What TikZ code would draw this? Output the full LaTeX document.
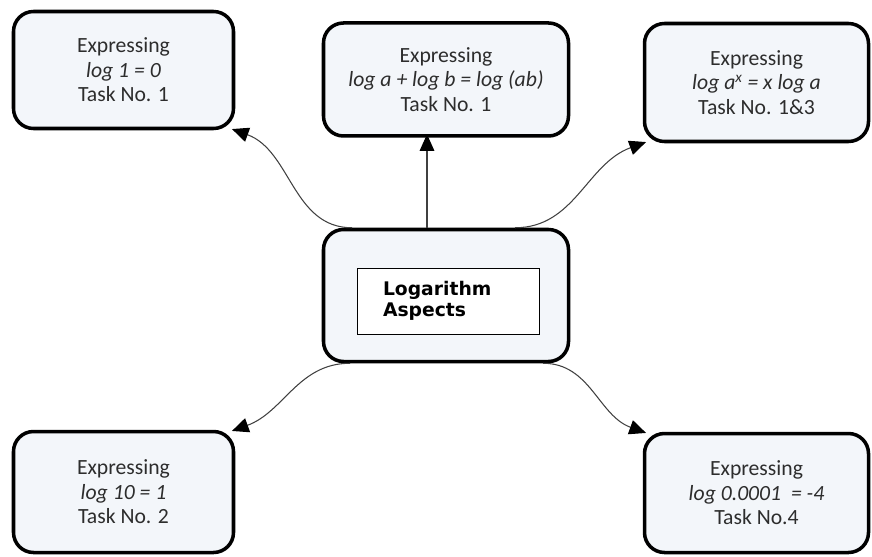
\documentclass[tikz,border=0pt]{standalone}
\usepackage{fontspec}
\setmainfont{Carlito}
\newfontfamily\aspectfont{DejaVu Sans}
\usepackage{tikz}
\usetikzlibrary{positioning,arrows.meta}
\definecolor{boxfill}{RGB}{243,246,250}
\definecolor{boxtext}{RGB}{45,45,45}
\definecolor{linkgray}{RGB}{64,64,64}

\begin{document}
\begin{tikzpicture}[
    aspectbox/.style={draw=black, line width=3pt, rounded corners=0.6cm, fill=boxfill,
        align=center, text=boxtext, font=\fontsize{18.5}{21}\selectfont},
    link/.style={draw=linkgray, line width=0.9pt, shorten >=-3pt,
        -{Triangle[length=5mm,width=4.4mm,color=black]}},
]
    \useasboundingbox (0,0) rectangle (26.16,-16.68);
    % define nodes
    % centre
    \node[aspectbox, minimum width=7.35cm, minimum height=3.96cm] (aspects) at (13.38,-8.865) {};
    \node[draw, line width=0.6pt, fill=white, minimum height=1.98cm, text width=3.9cm,
        inner xsep=0.78cm, align=left, font=\aspectfont\bfseries\fontsize{16}{17.5}\selectfont]
        (aspects_label) at (13.44,-9.03) {Logarithm\\Aspects};
    % top row
    \node[aspectbox, minimum width=6.6cm, minimum height=3.51cm] (log_one) at (3.705,-2.1)
        {Expressing\\\textit{log 1 = 0}\\Task No. 1};
    \node[aspectbox, minimum width=7.35cm, minimum height=3.39cm, above=2.7cm of aspects] (log_product)
        {Expressing\\\textit{log a + log b = log (ab)}\\Task No. 1};
    \node[aspectbox, minimum width=6.72cm, minimum height=3.54cm] (log_power) at (22.695,-2.475)
        {Expressing\\\textit{log a\textsuperscript{x} = x log a}\\Task No. 1\&3};
    % bottom row
    \node[aspectbox, minimum width=6.6cm, minimum height=3.63cm] (log_ten) at (3.705,-14.76)
        {Expressing\\\textit{log 10 = 1}\\Task No. 2};
    \node[aspectbox, minimum width=6.72cm, minimum height=3.57cm] (log_small) at (22.695,-14.79)
        {Expressing\\\textit{log 0.0001\ \ = -4}\\Task No.4};
    % draw connectors
    \draw[link] ([xshift=-2.82cm]aspects.north) to[out=180, in=-20] (log_one.south east);
    \draw[link] ([xshift=-0.57cm]aspects.north) -- ([xshift=-0.57cm]log_product.south);
    \draw[link] ([xshift=2.07cm]aspects.north) to[out=0, in=200] (log_power.south west);
    \draw[link] ([xshift=-2.88cm]aspects.south) to[out=180, in=20] (log_ten.north east);
    \draw[link] ([xshift=2.91cm]aspects.south) to[out=0, in=160] (log_small.north west);
\end{tikzpicture}
\end{document}
